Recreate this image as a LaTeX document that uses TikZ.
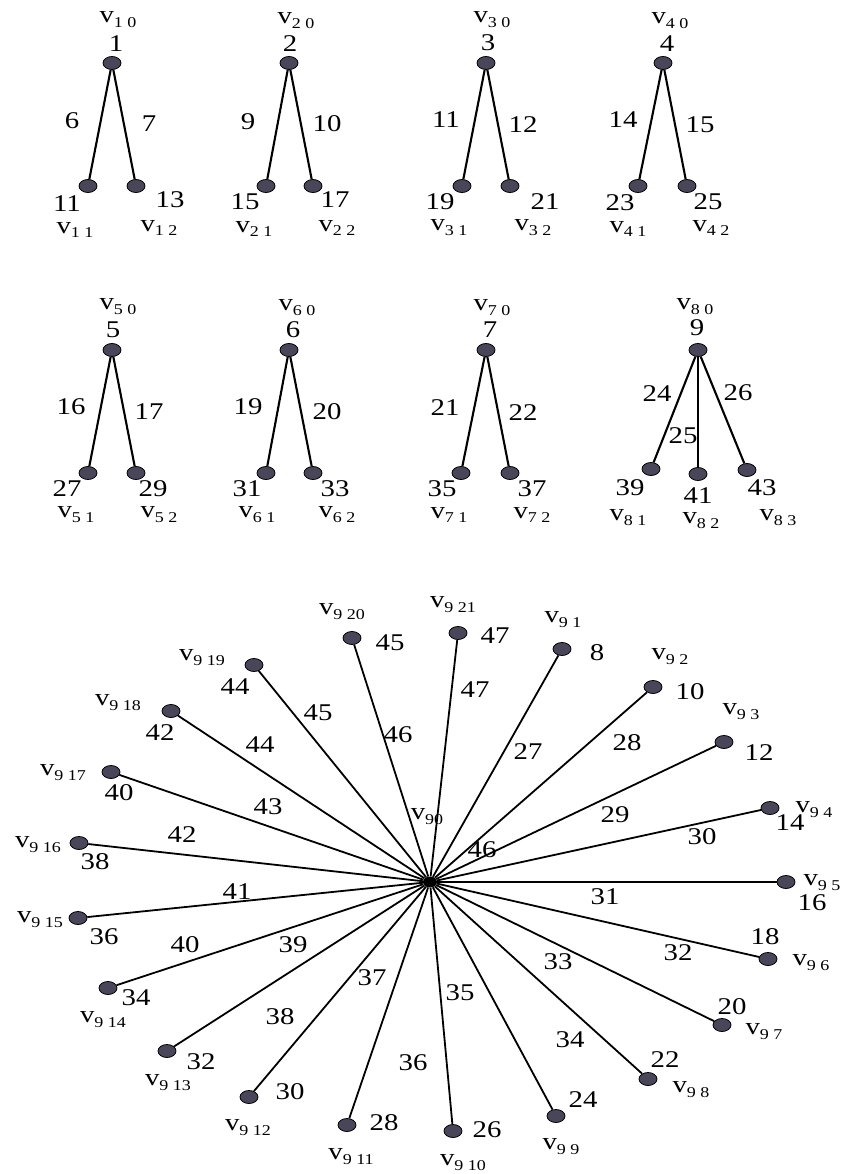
\documentclass[tikz,border=0pt]{standalone}
\usepackage{fontspec}
\setmainfont[FakeStretch=1.2]{Liberation Serif}
\usetikzlibrary{shapes.geometric}
\definecolor{dotc}{RGB}{72,70,88}
\newcommand{\vv}[2]{v\raisebox{-0.45ex}{\fontsize{15}{15}\selectfont #1\hspace{0.3em}#2}}
\newcommand{\vw}[1]{v\raisebox{-0.45ex}{\fontsize{15}{15}\selectfont #1}}
\tikzset{
  dot/.style={ellipse, draw=black, line width=0.8pt, fill=dotc, minimum width=18pt, minimum height=13pt, inner sep=0pt},
  hub/.style={ellipse, fill=black, minimum width=14pt, minimum height=11pt, inner sep=0pt},
  tedge/.style={line width=2.1pt},
  sedge/.style={line width=1.8pt},
  lab/.style={font=\fontsize{24}{24}\selectfont, inner sep=0pt},
}
\begin{document}
\begin{tikzpicture}[x=1pt,y=-1pt]
\useasboundingbox[fill=white] (0,0) rectangle (851,1174);
% ---------- top row ----------
% tree 1
\node[dot] (r1) at (112,63) {};
\node[dot] (a1) at (88,186) {};
\node[dot] (b1) at (136,186) {};
\draw[tedge] (r1) -- (a1);
\draw[tedge] (r1) -- (b1);
\node[lab] (r1n) at (116,44) {1};
\node[lab] (r1v) at (118,20) {\vv{1}{0}};
\node[lab] (e6) at (72,121) {6};
\node[lab] (e7) at (149,124) {7};
\node[lab] (a1n) at (67,204) {11};
\node[lab] (a1v) at (75,230) {\vv{1}{1}};
\node[lab] (b1n) at (170,200) {13};
\node[lab] (b1v) at (159,228) {\vv{1}{2}};
% tree 2
\node[dot] (r2) at (289,63) {};
\node[dot] (a2) at (266,186) {};
\node[dot] (b2) at (313,186) {};
\draw[tedge] (r2) -- (a2);
\draw[tedge] (r2) -- (b2);
\node[lab] (r2n) at (290,44) {2};
\node[lab] (r2v) at (296,21) {\vv{2}{0}};
\node[lab] (e9) at (248,122) {9};
\node[lab] (e10) at (327,124) {10};
\node[lab] (a2n) at (245,202) {15};
\node[lab] (a2v) at (254,229) {\vv{2}{1}};
\node[lab] (b2n) at (335,200) {17};
\node[lab] (b2v) at (337,228) {\vv{2}{2}};
% tree 3
\node[dot] (r3) at (486,63) {};
\node[dot] (a3) at (462,186) {};
\node[dot] (b3) at (510,186) {};
\draw[tedge] (r3) -- (a3);
\draw[tedge] (r3) -- (b3);
\node[lab] (r3n) at (488,43) {3};
\node[lab] (r3v) at (492,20) {\vv{3}{0}};
\node[lab] (e11) at (446,120) {11};
\node[lab] (e12) at (523,125) {12};
\node[lab] (a3n) at (440,202) {19};
\node[lab] (a3v) at (449,228) {\vv{3}{1}};
\node[lab] (b3n) at (545,202) {21};
\node[lab] (b3v) at (533,228) {\vv{3}{2}};
% tree 4
\node[dot] (r4) at (663,63) {};
\node[dot] (a4) at (638,186) {};
\node[dot] (b4) at (687,186) {};
\draw[tedge] (r4) -- (a4);
\draw[tedge] (r4) -- (b4);
\node[lab] (r4n) at (667,44) {4};
\node[lab] (r4v) at (670,21) {\vv{4}{0}};
\node[lab] (e14) at (623,120) {14};
\node[lab] (e15) at (700,125) {15};
\node[lab] (a4n) at (620,203) {23};
\node[lab] (a4v) at (628,229) {\vv{4}{1}};
\node[lab] (b4n) at (708,202) {25};
\node[lab] (b4v) at (711,228) {\vv{4}{2}};
% ---------- middle row ----------
% tree 5
\node[dot] (r5) at (112,350) {};
\node[dot] (a5) at (88,473) {};
\node[dot] (b5) at (136,473) {};
\draw[tedge] (r5) -- (a5);
\draw[tedge] (r5) -- (b5);
\node[lab] (r5n) at (113,330) {5};
\node[lab] (r5v) at (118,307) {\vv{5}{0}};
\node[lab] (e16) at (71,407) {16};
\node[lab] (e17) at (149,412) {17};
\node[lab] (a5n) at (67,489) {27};
\node[lab] (a5v) at (76,515) {\vv{5}{1}};
\node[lab] (b5n) at (153,489) {29};
\node[lab] (b5v) at (159,515) {\vv{5}{2}};
% tree 6
\node[dot] (r6) at (289,350) {};
\node[dot] (a6) at (266,473) {};
\node[dot] (b6) at (313,473) {};
\draw[tedge] (r6) -- (a6);
\draw[tedge] (r6) -- (b6);
\node[lab] (r6n) at (293,330) {6};
\node[lab] (r6v) at (297,308) {\vv{6}{0}};
\node[lab] (e19) at (248,407) {19};
\node[lab] (e20) at (327,412) {20};
\node[lab] (a6n) at (247,489) {31};
\node[lab] (a6v) at (257,515) {\vv{6}{1}};
\node[lab] (b6n) at (335,489) {33};
\node[lab] (b6v) at (337,515) {\vv{6}{2}};
% tree 7
\node[dot] (r7) at (486,350) {};
\node[dot] (a7) at (461,473) {};
\node[dot] (b7) at (510,473) {};
\draw[tedge] (r7) -- (a7);
\draw[tedge] (r7) -- (b7);
\node[lab] (r7n) at (490,330) {7};
\node[lab] (r7v) at (492,308) {\vv{7}{0}};
\node[lab] (e21) at (445,408) {21};
\node[lab] (e22) at (523,413) {22};
\node[lab] (a7n) at (442,489) {35};
\node[lab] (a7v) at (449,515) {\vv{7}{1}};
\node[lab] (b7n) at (532,489) {37};
\node[lab] (b7v) at (532,515) {\vv{7}{2}};
% tree 8
\node[dot] (r8) at (698,350) {};
\node[dot] (a8) at (651,469) {};
\node[dot] (m8) at (698,474) {};
\node[dot] (b8) at (747,470) {};
\draw[tedge] (r8) -- (a8);
\draw[tedge] (r8) -- (m8);
\draw[tedge] (r8) -- (b8);
\node[lab] (r8n) at (697,328) {9};
\node[lab] (r8v) at (695,307) {\vv{8}{0}};
\node[lab] (e24) at (657,394) {24};
\node[lab] (e25) at (683,436) {25};
\node[lab] (e26) at (738,393) {26};
\node[lab] (a8n) at (630,488) {39};
\node[lab] (a8v) at (628,518) {\vv{8}{1}};
\node[lab] (m8n) at (698,496) {41};
\node[lab] (m8v) at (701,521) {\vv{8}{2}};
\node[lab] (b8n) at (762,488) {43};
\node[lab] (b8v) at (778,518) {\vv{8}{3}};
% ---------- star ----------
\node[hub] (hub) at (430,882) {};
\foreach \i/\x/\y in {1/562/649, 2/653/687, 3/724/742, 4/770/808, 5/786/882,
  6/768/959, 7/722/1025, 8/648/1079, 9/556/1116, 10/453/1131, 11/347/1125,
  12/249/1097, 13/167/1051, 14/108/988, 15/78/918, 16/79/843, 17/111/772,
  18/171/711, 19/254/665, 20/352/638, 21/458/633}{
  \node[dot] (l\i) at (\x,\y) {};
  \draw[sedge] (hub) -- (l\i);
}
% leaf numbers and names
\foreach \i/\n/\nx/\ny/\vx/\vy in {1/8/597/653/563/620, 2/10/690/692/670/657,
  3/12/759/753/741/712, 4/14/790/823/814/810, 5/16/812/903/822/883,
  6/18/765/937/811/963, 7/20/732/1007/764/1032, 8/22/665/1060/691/1090,
  9/24/583/1100/561/1147, 10/26/487/1130/463/1163, 11/28/384/1123/351/1157,
  12/30/290/1092/248/1128, 13/32/201/1062/168/1083, 14/34/136/998/103/1020,
  15/36/104/937/40/920, 16/38/95/862/38/845, 17/40/119/793/63/773,
  18/42/160/733/118/703, 19/44/235/687/202/658, 20/45/390/643/342/612,
  21/47/495/636/453/605}{
  \node[lab] (n\i) at (\nx,\ny) {\n};
  \node[lab] (v\i) at (\vx,\vy) {\vv{9}{\i}};
}
% edge labels
\foreach \k/\t/\x/\y in {a/27/528/752, b/28/627/743, c/29/615/815, d/30/702/837,
  e/31/605/897, f/32/678/953, g/33/558/962, h/34/570/1040, i/35/460/993,
  j/36/413/1063, k/37/372/978, l/38/280/1017, m/39/293/945, n/40/185/945,
  o/41/237/892, p/42/182/835, q/43/268/807, r/44/260/745, s/45/318/713,
  t/46/398/735, u/46/482/850, w/47/475/690}{
  \node[lab] (el\k) at (\x,\y) {\t};
}
\node[lab] (hubv) at (427,817) {\vw{90}};
\end{tikzpicture}
\end{document}
